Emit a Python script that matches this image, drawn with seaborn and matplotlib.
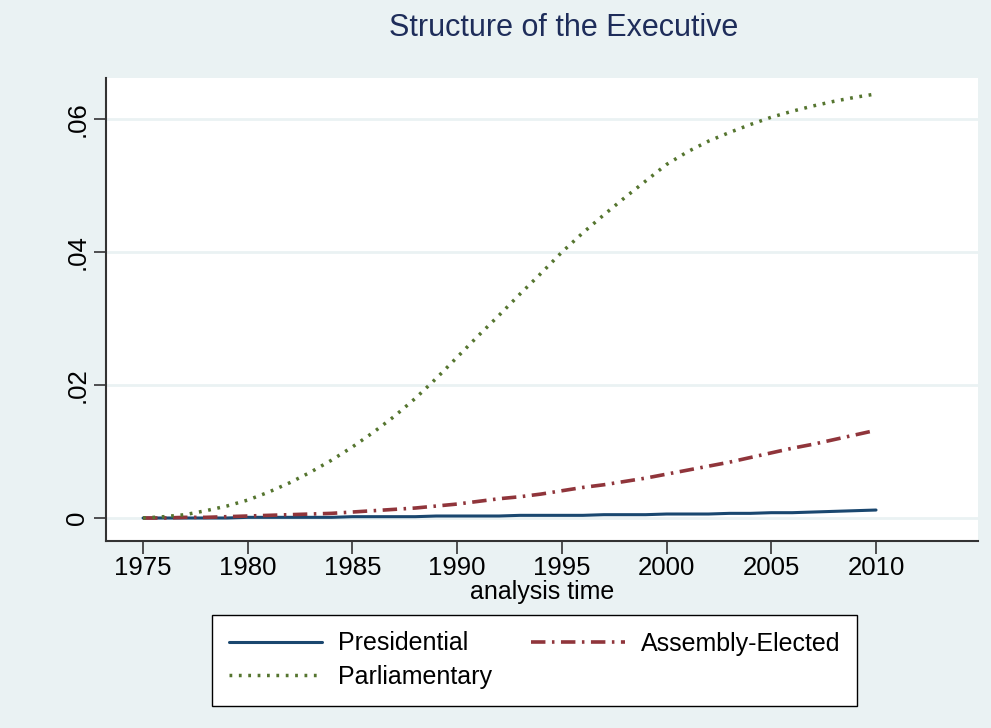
"""
Structure of the Executive - cumulative hazard style chart
"""
import matplotlib
matplotlib.use("Agg")
import matplotlib.pyplot as plt
import numpy as np
import pandas as pd
import seaborn as sns

years = list(range(1975, 2011))

parliamentary = [
    0.0000, 0.0002, 0.0005, 0.0011, 0.0018, 0.0027, 0.0039, 0.0053, 0.0069, 0.0087,
    0.0107, 0.0129, 0.0153, 0.0180, 0.0210, 0.0242, 0.0274, 0.0305, 0.0337, 0.0368,
    0.0400, 0.0429, 0.0456, 0.0482, 0.0507, 0.0532, 0.0551, 0.0567, 0.0580, 0.0592,
    0.0603, 0.0612, 0.0620, 0.0627, 0.0633, 0.0638,
]
assembly = [
    0.0000, 0.0000, 0.0001, 0.0001, 0.0002, 0.0003, 0.0004, 0.0005, 0.0006, 0.0007,
    0.0009, 0.0011, 0.0013, 0.0015, 0.0018, 0.0021, 0.0025, 0.0029, 0.0032, 0.0036,
    0.0041, 0.0046, 0.0050, 0.0055, 0.0060, 0.0066, 0.0072, 0.0078, 0.0084, 0.0091,
    0.0098, 0.0105, 0.0111, 0.0118, 0.0125, 0.0132,
]
presidential = [
    0.0000, 0.0000, 0.0000, 0.0000, 0.0000, 0.0001, 0.0001, 0.0001, 0.0001, 0.0001,
    0.0002, 0.0002, 0.0002, 0.0002, 0.0003, 0.0003, 0.0003, 0.0003, 0.0004, 0.0004,
    0.0004, 0.0004, 0.0005, 0.0005, 0.0005, 0.0006, 0.0006, 0.0006, 0.0007, 0.0007,
    0.0008, 0.0008, 0.0009, 0.0010, 0.0011, 0.0012,
]

x_ticks = [1975, 1980, 1985, 1990, 1995, 2000, 2005, 2010]
y_ticks = [0, 0.02, 0.04, 0.06]
y_tick_labels = ["0", ".02", ".04", ".06"]

BG = "#eaf2f3"
NAVY = "#1a476f"
MAROON = "#90353b"
GREEN = "#55752f"
TITLE = "#1e2d5a"

sns.set_theme(style="white")
plt.rcParams["font.family"] = ["Liberation Sans", "DejaVu Sans"]
plt.rcParams["text.color"] = "black"
plt.rcParams["xtick.color"] = "black"
plt.rcParams["ytick.color"] = "black"
plt.rcParams["axes.labelcolor"] = "black"

fig = plt.figure(figsize=(9.91, 7.28), dpi=100, facecolor=BG)
ax = fig.add_axes([106 / 991, 1 - 541 / 728, 872 / 991, 463 / 728])
ax.set_facecolor("white")

sns.lineplot(x=years, y=presidential, color=NAVY, lw=2.2, ax=ax, label="Presidential")
sns.lineplot(x=years, y=assembly, color=MAROON, lw=2.6, ls=(0, (4, 1.8, 0.7, 1.8)),
             ax=ax, label="Assembly-Elected")
sns.lineplot(x=years, y=parliamentary, color=GREEN, lw=2.5, ls=(0, (0.8, 1.9)),
             ax=ax, label="Parliamentary")

ax.set_xlim(1973.23, 2014.87)
ax.set_ylim(-0.00346, 0.0662)
ax.set_xticks(x_ticks)
ax.set_xticklabels([str(t) for t in x_ticks], fontsize=18.5)
ax.set_yticks(y_ticks)
ax.set_yticklabels(y_tick_labels, fontsize=18.5, rotation=90, va="center")
ax.grid(axis="y", color=BG, lw=2)
ax.grid(axis="x", visible=False)
ax.set_axisbelow(True)

for side in ["top", "right"]:
    ax.spines[side].set_visible(False)
for side in ["left", "bottom"]:
    ax.spines[side].set_color("#333333")
    ax.spines[side].set_linewidth(1.5)
ax.tick_params(axis="both", direction="out", length=9, width=1.2, color="#333333",
               left=True, bottom=True, pad=3)
ax.tick_params(axis="x", pad=1.5)

ax.set_xlabel("analysis time", fontsize=18, labelpad=0)
ax.set_ylabel("")

handles, labels = ax.get_legend_handles_labels()
ax.get_legend().remove()
# matplotlib fills legend columns first, so reorder to get row-wise layout
order = [0, 2, 1]
leg = fig.legend([handles[i] for i in order], [labels[i] for i in order],
                 ncol=2, mode="expand",
                 bbox_to_anchor=(212 / 991, 31 / 728, 645 / 991, 82 / 728),
                 loc="upper left", fontsize=18, handlelength=3.75, handletextpad=0.65,
                 frameon=True, fancybox=False, edgecolor="black", framealpha=1,
                 facecolor="white", borderaxespad=0, borderpad=0.66,
                 labelspacing=0.38)
leg.get_frame().set_linewidth(1.0)

fig.text(564 / 991, 1 - 28 / 728, "Structure of the Executive", fontsize=22,
         color=TITLE, ha="center", va="center")

fig.savefig("out.png", dpi=100, facecolor=BG)
